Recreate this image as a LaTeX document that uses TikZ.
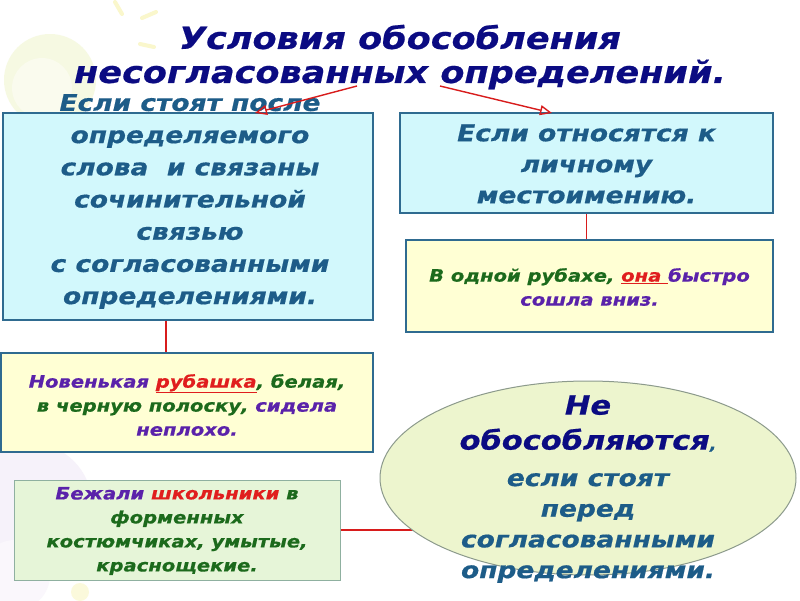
\documentclass[tikz,border=0pt]{standalone}
\usepackage{fontspec}
\setmainfont[FakeStretch=1.15, BoldItalicFeatures={FakeBold=0.6}]{DejaVu Sans}
\usetikzlibrary{shapes.geometric,arrows.meta,backgrounds}
\definecolor{titleblue}{HTML}{0B0B82}
\definecolor{boxtext}{HTML}{1D5C88}
\definecolor{boxedge}{HTML}{2F6B90}
\definecolor{cyanfill}{HTML}{D2F8FC}
\definecolor{yelfill}{HTML}{FFFFD4}
\definecolor{grnfill}{HTML}{E6F5D8}
\definecolor{grnedge}{HTML}{8FB0A0}
\definecolor{ellfill}{HTML}{EDF5CE}
\definecolor{elledge}{HTML}{8C9A8C}
\definecolor{exgreen}{HTML}{1C6A1C}
\definecolor{expurple}{HTML}{5A22AA}
\definecolor{exred}{HTML}{E01E1E}
\definecolor{conred}{HTML}{D81C1C}
\definecolor{sunpale}{HTML}{F6F9E2}
\definecolor{raypale}{HTML}{FAF7CC}
\definecolor{lilacpale}{HTML}{F6F2FA}
\tikzset{
  box/.style={rectangle, draw=boxedge, line width=1.6pt, inner sep=0pt},
  txt/.style={align=center, inner sep=0pt},
  con/.style={draw=conred, line width=1.6pt},
  arr/.style={draw=conred, line width=1.4pt, -{Triangle[open,length=12pt,width=10pt]}},
}
\newcommand{\fs}[2]{\fontsize{#1}{#2}\selectfont}
\begin{document}
\begin{tikzpicture}[x=1pt,y=-1pt,font=\bfseries\itshape]
\useasboundingbox (0,0) rectangle (800,600);

% title
\node[txt, text=titleblue, font=\bfseries\itshape\fs{30.5}{34}] (title) at (400,57)
  {Условия обособления\\несогласованных определений.};

% boxes
\node[box, fill=cyanfill, minimum width=370pt, minimum height=207pt] (b1) at (188,216.5) {};
\node[box, fill=cyanfill, minimum width=373pt, minimum height=100pt] (b2) at (586.5,163) {};
\node[box, fill=yelfill, minimum width=367pt, minimum height=92pt] (b3) at (589.5,286) {};
\node[box, fill=yelfill, minimum width=372pt, minimum height=99pt] (b4) at (187,402.5) {};
\node[box, draw=grnedge, line width=1pt, fill=grnfill, minimum width=326pt, minimum height=100pt] (b5) at (177,530) {};
\node[ellipse, draw=elledge, fill=ellfill, line width=1pt, inner sep=0pt,
      minimum width=416pt, minimum height=194pt] (ell) at (588,478) {};

% texts
\node[txt, text=boxtext, font=\bfseries\itshape\fs{23}{32.2}] (b1t) at (190,201.5)
  {Если стоят после\\определяемого\\слова\ \ и связаны\\сочинительной\\связью\\с согласованными\\определениями.};
\node[txt, text=boxtext, font=\bfseries\itshape\fs{23}{31}] (b2t) at (586.5,164)
  {Если относятся к\\личному\\местоимению.};
\node[txt, font=\bfseries\itshape\fs{17}{24}] (b3t) at (589.5,287)
  {\textcolor{exgreen}{В одной рубахе,} \textcolor{exred}{\underline{она\ }}\textcolor{expurple}{быстро}\\\textcolor{expurple}{сошла вниз.}};
\node[txt, font=\bfseries\itshape\fs{17}{24}] (b4t) at (187,405)
  {\textcolor{expurple}{Новенькая} \textcolor{exred}{\underline{рубашка}}\textcolor{exgreen}{, белая,}\\\textcolor{exgreen}{в черную полоску,} \textcolor{expurple}{сидела}\\\textcolor{expurple}{неплохо.}};
\node[txt, text=exgreen, font=\bfseries\itshape\fs{17}{24}] (b5t) at (177,531)
  {\textcolor{expurple}{Бежали} \textcolor{exred}{школьники} в\\форменных\\костюмчиках, умытые,\\краснощекие.};
\node[txt, text=titleblue, font=\bfseries\itshape\fs{26.5}{35}] (e1) at (588,423.5)
  {Не\\обособляются{\fs{15}{15}\color{boxtext},}};
\node[txt, text=boxtext, font=\bfseries\itshape\fs{23}{30.7}] (e2) at (588,528)
  {если стоят\\перед\\согласованными\\определениями.};

% connector helper coordinates
\coordinate (a1s) at (357,86);
\coordinate (a1e) at (255,113);
\coordinate (a2s) at (440,86);
\coordinate (a2e) at (552,113);
\coordinate (x1) at (166,0);

\begin{scope}[on background layer]
  \fill[white] (0,0) rectangle (800,600);
  % faint decorations
  \fill[sunpale] (50,80) circle (46pt);
  \fill[white!40!sunpale] (42,88) circle (30pt);
  \draw[raypale, line width=4pt, line cap=round] (115,2) -- (122,14);
  \draw[raypale, line width=4pt, line cap=round] (142,18) -- (156,12);
  \draw[raypale, line width=4pt, line cap=round] (140,44) -- (154,47);
  \fill[lilacpale] (30,505) circle (62pt);
  \fill[white!40!lilacpale] (15,575) circle (35pt);
  \fill[white!30!raypale] (80,592) circle (9pt);
  % connectors
  \path[con] (b1.south -| x1) -- (b4.north -| x1);
  \path[con] (b2.south) -- (b2.south |- b3.north);
  \path[con] (b5.east) -- (b5.east -| ell.center);
\end{scope}

\draw[arr] (a1s) -- (a1e);
\draw[arr] (a2s) -- (a2e);
\end{tikzpicture}
\end{document}
